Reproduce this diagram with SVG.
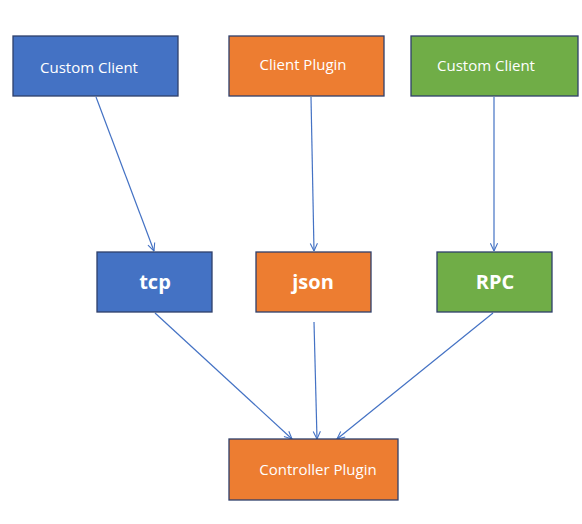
<svg xmlns="http://www.w3.org/2000/svg" width="582" height="524" viewBox="0 0 582 524">
<defs>
<style>
.box{stroke:#2F3F6B;stroke-width:1.3}
.b{fill:#4472C4}.o{fill:#ED7D31}.g{fill:#70AD47}
.t{font-family:"Open Sans","Noto Sans",sans-serif;font-size:15px;fill:#fff;text-anchor:middle}
.tb{font-family:"Open Sans","Noto Sans",sans-serif;font-size:20px;font-weight:bold;fill:#fff;text-anchor:middle}
.c{stroke:#4472C4;stroke-width:1.2;fill:none;marker-end:url(#ah)}
</style>
<marker id="ah" viewBox="0 0 10 10" refX="9.5" refY="5" markerWidth="9" markerHeight="9" markerUnits="userSpaceOnUse" orient="auto">
<path d="M1,1 L9.5,5 L1,9" fill="none" stroke="#4472C4" stroke-width="1.2"/>
</marker>
</defs>
<rect width="582" height="524" fill="#fff"/>
<g id="connectors">
<line class="c" x1="96" y1="97" x2="154" y2="251"/>
<line class="c" x1="311" y1="97" x2="314" y2="251"/>
<line class="c" x1="494" y1="97" x2="494" y2="251"/>
<line class="c" x1="155" y1="313" x2="292" y2="439"/>
<line class="c" x1="314" y1="322" x2="317" y2="439"/>
<line class="c" x1="493" y1="313" x2="337" y2="439"/>
</g>
<g id="n1"><rect class="box b" x="13" y="36" width="165" height="60"/><text class="t" x="89" y="73">Custom Client</text></g>
<g id="n2"><rect class="box o" x="229" y="36" width="155" height="60"/><text class="t" x="303" y="70">Client Plugin</text></g>
<g id="n3"><rect class="box g" x="411" y="36" width="167" height="60"/><text class="t" x="486" y="71">Custom Client</text></g>
<g id="n4"><rect class="box b" x="97" y="252" width="115" height="60"/><text class="tb" x="155" y="289">tcp</text></g>
<g id="n5"><rect class="box o" x="256" y="252" width="115" height="60"/><text class="tb" x="313" y="289">json</text></g>
<g id="n6"><rect class="box g" x="437" y="252" width="115" height="60"/><text class="tb" x="495" y="289">RPC</text></g>
<g id="n7"><rect class="box o" x="229" y="439" width="169" height="61"/><text class="t" x="318" y="475">Controller Plugin</text></g>
</svg>
